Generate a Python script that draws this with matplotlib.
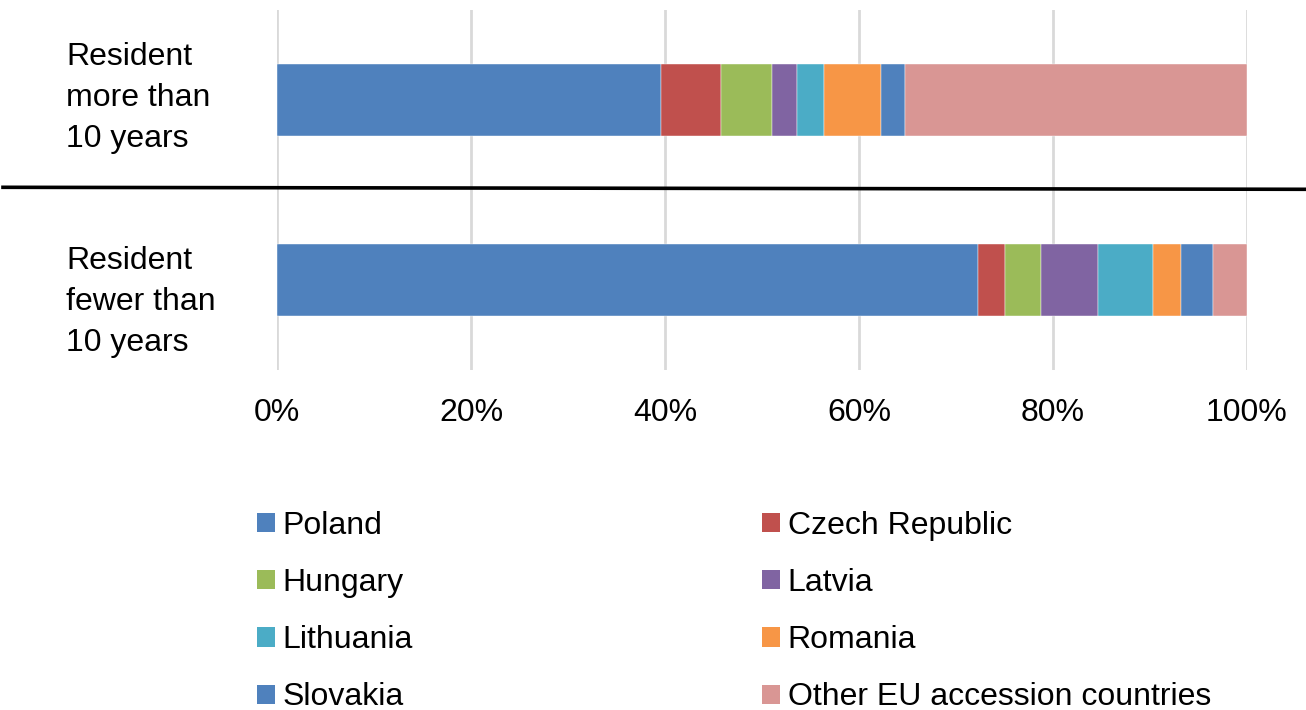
import matplotlib.pyplot as plt
from matplotlib.lines import Line2D
from matplotlib.patches import Patch

plt.rcParams['font.family'] = ['Liberation Sans', 'DejaVu Sans']

# Data (shares in %)
groups = ['Resident\nfewer than\n10 years', 'Resident\nmore than\n10 years']
countries = ['Poland', 'Czech Republic', 'Hungary', 'Latvia', 'Lithuania',
             'Romania', 'Slovakia', 'Other EU accession countries']
fewer_than_10 = [72.3, 2.7, 3.8, 5.8, 5.7, 2.9, 3.3, 3.5]
more_than_10 = [39.6, 6.2, 5.2, 2.6, 2.8, 5.9, 2.4, 35.3]
colors = ['#4F81BD', '#C0504D', '#9BBB59', '#8064A2', '#4BACC6',
          '#F79646', '#4F81BD', '#D99694']
xticks = [0, 20, 40, 60, 80, 100]
xtick_labels = ['0%', '20%', '40%', '60%', '80%', '100%']

fs = 23

fig = plt.figure(figsize=(13.06, 7.10), dpi=100)
ax = fig.add_axes([277 / 1306, 1 - 370 / 710, 970 / 1306, 360 / 710])

values = [fewer_than_10, more_than_10]
left = [0, 0]
for i, c in enumerate(countries):
    seg = [values[0][i], values[1][i]]
    ax.barh([0, 1], seg, left=left, height=0.395, color=colors[i],
            edgecolor='white', linewidth=0.3, zorder=3)
    left = [left[0] + seg[0], left[1] + seg[1]]

ax.set_xlim(0, 100)
ax.set_ylim(-0.5, 1.5)
ax.set_xticks(xticks)
ax.set_xticklabels(xtick_labels, fontsize=fs)
ax.set_yticks([])
ax.tick_params(axis='x', length=0, pad=20)
ax.grid(axis='x', color='#D9D9D9', linewidth=2, zorder=0)
for s in ax.spines.values():
    s.set_visible(False)

# group labels on the left
for yc, g in zip([302, 98], groups):
    fig.text(66 / 1306, 1 - yc / 710, g, fontsize=fs, ha='left', va='center',
             linespacing=1.49)

# separator line across the figure
fig.add_artist(Line2D([3 / 1306, 1], [1 - 187.3 / 710, 1 - 189.3 / 710],
                      color='black', linewidth=2.6, transform=fig.transFigure))

# legend, filled column-wise
order = [0, 2, 4, 6, 1, 3, 5, 7]
handles = [Patch(facecolor=colors[i], label=countries[i]) for i in order]
fig.legend(handles=handles, ncol=2, loc='upper left',
           bbox_to_anchor=(257 / 1306, 1 - 511 / 710), frameon=False,
           fontsize=fs, handlelength=0.55, handleheight=0.55,
           handletextpad=0.25, columnspacing=10.93, labelspacing=0.85,
           borderpad=0, borderaxespad=0)

fig.savefig('out.png', dpi=100)
